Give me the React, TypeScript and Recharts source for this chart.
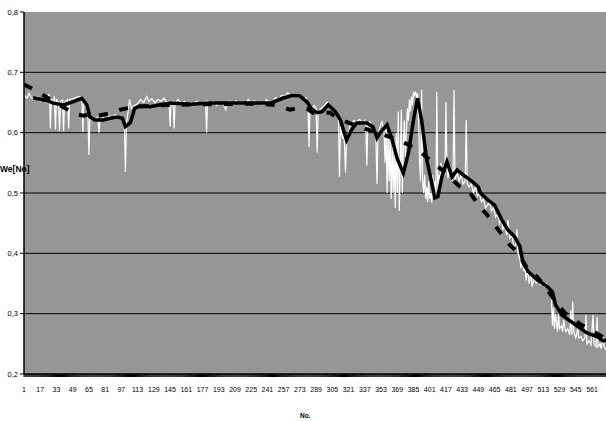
import { LineChart, Line, XAxis, YAxis, CartesianGrid } from 'recharts'

type Pt = [number, number]

const xLabels = [1, 17, 33, 49, 65, 81, 97, 113, 129, 145, 161, 177, 193, 209, 225, 241, 257, 273, 289, 305, 321, 337, 353, 369, 385, 401, 417, 433, 449, 465, 481, 497, 513, 529, 545, 561]
const yTicks = [0.2, 0.3, 0.4, 0.5, 0.6, 0.7, 0.8]

// white raw series, [No., We]
const rawStart: Pt[] = [
  [1, 0.662], [4, 0.657], [6, 0.665], [8, 0.658], [11, 0.655], [14, 0.66], [17, 0.652], [20, 0.656], [23, 0.65], [25, 0.66],
  [26, 0.664], [27, 0.607], [28, 0.655], [30, 0.65], [31, 0.66], [32, 0.605], [33, 0.655], [35, 0.651], [36, 0.603], [37, 0.652],
  [39, 0.654], [40, 0.603], [41, 0.65], [44, 0.655], [45, 0.607], [46, 0.655], [49, 0.656], [52, 0.658], [55, 0.66], [58, 0.658],
  [59, 0.601], [60, 0.655], [62, 0.645], [64, 0.63], [65, 0.563], [66, 0.625], [68, 0.622], [70, 0.62], [73, 0.625], [74, 0.62],
  [75, 0.6], [76, 0.622], [79, 0.625], [82, 0.622], [85, 0.628], [88, 0.625], [91, 0.63], [94, 0.627], [97, 0.625], [99, 0.62],
  [100, 0.612], [101, 0.535], [102, 0.615], [104, 0.64], [105, 0.655], [107, 0.64], [110, 0.645],
]
const rawFlat: Pt[] = [
  [113, 0.648], [116, 0.655], [119, 0.65], [122, 0.66], [124, 0.652], [127, 0.656], [130, 0.65], [133, 0.655], [136, 0.652], [139, 0.657],
  [142, 0.65], [144, 0.652], [145, 0.61], [146, 0.65], [148, 0.652], [149, 0.607], [150, 0.65], [153, 0.655], [156, 0.648], [159, 0.652],
  [162, 0.645], [165, 0.65], [168, 0.648], [171, 0.652], [174, 0.647], [177, 0.65], [180, 0.652], [181, 0.6], [182, 0.652], [185, 0.648],
  [188, 0.652], [191, 0.645], [194, 0.65], [197, 0.648], [200, 0.638], [201, 0.65], [204, 0.652], [207, 0.647], [210, 0.653], [213, 0.648],
  [216, 0.652], [219, 0.646], [222, 0.655], [225, 0.65], [228, 0.653], [231, 0.648], [234, 0.652], [237, 0.647], [240, 0.655], [243, 0.65],
  [246, 0.652], [249, 0.658], [252, 0.655],
]
const rawDrop: Pt[] = [
  [255, 0.662], [258, 0.66], [261, 0.666], [264, 0.662], [267, 0.665], [270, 0.66], [273, 0.663], [276, 0.655], [279, 0.658], [281, 0.645],
  [282, 0.576], [283, 0.645], [285, 0.64], [287, 0.645], [289, 0.64], [290, 0.567], [291, 0.635], [294, 0.64], [297, 0.645], [300, 0.65],
  [303, 0.642], [306, 0.64], [309, 0.63], [311, 0.625], [312, 0.527], [313, 0.61], [315, 0.59], [316, 0.6], [317, 0.58], [318, 0.534],
  [319, 0.59], [321, 0.6], [323, 0.615], [326, 0.62], [329, 0.618], [332, 0.622], [335, 0.615], [337, 0.62], [338, 0.61], [339, 0.545],
  [340, 0.615], [342, 0.618], [344, 0.612], [346, 0.6], [348, 0.59], [349, 0.515], [350, 0.595], [352, 0.61],
]
const rawPeak: Pt[] = [
  [354, 0.618], [356, 0.6], [357, 0.55], [358, 0.61], [359, 0.5], [360, 0.6], [361, 0.52], [362, 0.59], [363, 0.49], [364, 0.58],
  [365, 0.5], [366, 0.57], [367, 0.475], [368, 0.6], [369, 0.5], [370, 0.635], [371, 0.47], [372, 0.55], [373, 0.638], [374, 0.5],
  [375, 0.58], [376, 0.62], [377, 0.56], [378, 0.6], [379, 0.64], [380, 0.62], [381, 0.655], [382, 0.635], [383, 0.66], [384, 0.645],
  [385, 0.668], [386, 0.66], [387, 0.668], [388, 0.66], [389, 0.665], [390, 0.62], [391, 0.55], [392, 0.52], [393, 0.671], [394, 0.52],
  [395, 0.5], [396, 0.53], [397, 0.49], [398, 0.51], [399, 0.485], [400, 0.52], [401, 0.49], [402, 0.5], [403, 0.484], [404, 0.53],
  [405, 0.49], [406, 0.52], [407, 0.49], [408, 0.668], [409, 0.5], [410, 0.53], [411, 0.52], [412, 0.55], [413, 0.53], [415, 0.545],
  [416, 0.53], [417, 0.651], [418, 0.54], [419, 0.525], [421, 0.545], [423, 0.52], [424, 0.535], [425, 0.671], [426, 0.52], [428, 0.535],
  [430, 0.52], [432, 0.53], [434, 0.515], [436, 0.52], [437, 0.621], [438, 0.515], [440, 0.51], [442, 0.515], [444, 0.5], [446, 0.51],
  [448, 0.495], [450, 0.5], [452, 0.485], [454, 0.49], [456, 0.475], [458, 0.48],
]
const rawTail: Pt[] = [
  [460, 0.485], [462, 0.47], [464, 0.475], [466, 0.46], [468, 0.465], [470, 0.45], [472, 0.46], [473, 0.44], [475, 0.445], [477, 0.43],
  [478, 0.455], [480, 0.425], [482, 0.43], [484, 0.41], [486, 0.415], [487, 0.44], [488, 0.4], [490, 0.39], [491, 0.375], [492, 0.39],
  [494, 0.37], [495, 0.38], [496, 0.355], [498, 0.375], [499, 0.35], [501, 0.365], [502, 0.345], [504, 0.36], [506, 0.35], [508, 0.355],
  [510, 0.348], [512, 0.352], [514, 0.345], [516, 0.35], [518, 0.345], [520, 0.34], [521, 0.325], [522, 0.28], [523, 0.31], [524, 0.275],
  [525, 0.3], [526, 0.285], [527, 0.27], [528, 0.303], [529, 0.275], [531, 0.28], [532, 0.27], [533, 0.29], [535, 0.27], [537, 0.275],
  [539, 0.265], [540, 0.305], [541, 0.265], [542, 0.32], [543, 0.27], [545, 0.26], [547, 0.275], [548, 0.26], [550, 0.262], [552, 0.255],
  [554, 0.26], [555, 0.298], [556, 0.25], [558, 0.255], [560, 0.248], [562, 0.298], [563, 0.25], [565, 0.245], [566, 0.295], [567, 0.245],
  [569, 0.25], [570, 0.242], [572, 0.26], [573, 0.245], [575, 0.24],
]

// black solid: moving average
const movingAvg: Pt[] = [
  [10, 0.658], [24, 0.653], [30, 0.649], [40, 0.646], [49, 0.651], [58, 0.657], [63, 0.646], [66, 0.626], [71, 0.621], [79, 0.621],
  [86, 0.624], [93, 0.626], [98, 0.624], [101, 0.61], [106, 0.617], [110, 0.64], [115, 0.644], [125, 0.643], [145, 0.649], [165, 0.647],
  [184, 0.649], [204, 0.649], [224, 0.649], [244, 0.649], [256, 0.657], [266, 0.662], [273, 0.661], [280, 0.651], [285, 0.638], [290, 0.633],
  [295, 0.635], [301, 0.646], [308, 0.635], [313, 0.621], [319, 0.588], [324, 0.605], [329, 0.616], [339, 0.616], [345, 0.61], [349, 0.591],
  [352, 0.6], [359, 0.613], [364, 0.588], [369, 0.557], [375, 0.533], [380, 0.566], [385, 0.621], [389, 0.657], [393, 0.621], [398, 0.555],
  [403, 0.517], [406, 0.492], [409, 0.494], [413, 0.527], [418, 0.552], [423, 0.527], [428, 0.538], [434, 0.53], [443, 0.519], [449, 0.51],
  [451, 0.5], [458, 0.489], [465, 0.48], [472, 0.456], [478, 0.439], [485, 0.427], [490, 0.411], [493, 0.384], [498, 0.37], [507, 0.356],
  [517, 0.345], [522, 0.336], [525, 0.315], [531, 0.298], [542, 0.285], [556, 0.268], [566, 0.262], [572, 0.255], [575, 0.256],
]

// black dashed: trend
const trend: Pt[] = [
  [1, 0.68], [9, 0.673], [20, 0.662], [30, 0.652], [43, 0.639], [51, 0.631], [60, 0.628], [68, 0.632], [74, 0.628], [89, 0.633],
  [96, 0.638], [110, 0.643], [130, 0.645], [170, 0.647], [230, 0.648], [248, 0.646], [255, 0.643], [263, 0.638], [272, 0.641], [280, 0.64],
  [286, 0.633], [303, 0.633], [308, 0.626], [320, 0.617], [340, 0.605], [360, 0.594], [374, 0.585], [380, 0.58], [390, 0.57], [399, 0.558],
  [404, 0.552], [415, 0.535], [431, 0.51], [441, 0.5], [451, 0.475], [456, 0.467], [465, 0.447], [470, 0.436], [480, 0.414], [487, 0.403],
  [498, 0.373], [503, 0.368], [515, 0.345], [525, 0.32], [535, 0.3], [550, 0.282], [565, 0.268], [575, 0.258],
]

const toRows = (pts: Pt[]) => pts.map(([n, v]) => ({ n, v }))

const rawRows = toRows([...rawStart, ...rawFlat, ...rawDrop, ...rawPeak, ...rawTail])
const avgRows = toRows(movingAvg)
const trendRows = toRows(trend)

// one small tick per category, label every 16th
const allTicks = Array.from({ length: 574 }, (_, i) => i + 1)

const font = '"Liberation Sans", Arial, sans-serif'

function XTick(props: any) {
  const { x, y, payload } = props
  if (!xLabels.includes(payload.value)) return <g />
  return (
    <text x={x} y={y} dy={13} textAnchor="middle" fontSize={7} fontFamily={font} fill="#000">
      {payload.value}
    </text>
  )
}

export default function App() {
  return (
    <div style={{ position: 'absolute', left: 0, top: 0, width: 606, height: 421, overflow: 'hidden', background: '#fff' }}>
      <LineChart width={606} height={421} margin={{ top: 12, right: 0, bottom: 0, left: 0 }}>
        <CartesianGrid
          fill="#969696"
          stroke="#000"
          vertical={false}
          horizontalValues={[0.3, 0.4, 0.5, 0.6, 0.7]}
        />
        <XAxis
          dataKey="n"
          type="number"
          domain={[1, 574.8]}
          ticks={allTicks}
          interval={0}
          tickSize={3}
          tickMargin={2}
          tick={XTick}
          height={47}
          axisLine={{ stroke: '#000', strokeWidth: 1.5 }}
          tickLine={{ stroke: '#000' }}
          allowDataOverflow
        />
        <YAxis
          type="number"
          domain={[0.2, 0.8]}
          ticks={yTicks}
          width={24}
          tickSize={4}
          tickMargin={2}
          tickFormatter={(v: number) => v.toFixed(1).replace('.', ',')}
          tick={{ fontSize: 7.5, fill: '#000', fontFamily: font }}
          axisLine={{ stroke: '#000', strokeWidth: 1.5 }}
          tickLine={{ stroke: '#000' }}
        />
        <Line data={rawRows} dataKey="v" stroke="#fff" strokeWidth={1.2} dot={false} isAnimationActive={false} />
        <Line data={avgRows} dataKey="v" stroke="#000" strokeWidth={3.5} dot={false} isAnimationActive={false} />
        <Line
          data={trendRows}
          dataKey="v"
          stroke="#000"
          strokeWidth={4}
          strokeDasharray="9 12"
          dot={false}
          isAnimationActive={false}
        />
      </LineChart>
      <div style={{ position: 'absolute', left: 0, top: 165, fontFamily: font, fontWeight: 'bold', fontSize: 8.5, lineHeight: 1 }}>
        We[No]
      </div>
      <div style={{ position: 'absolute', left: 300, top: 413, fontFamily: font, fontWeight: 'bold', fontSize: 6.5, lineHeight: 1 }}>
        No.
      </div>
    </div>
  )
}
